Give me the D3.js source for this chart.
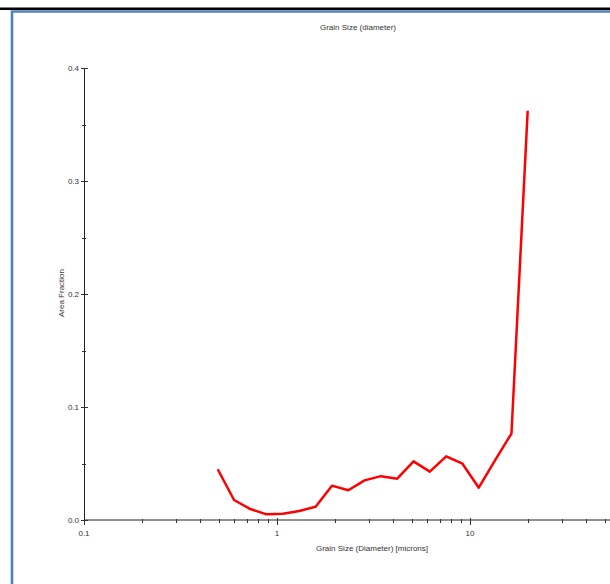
<!DOCTYPE html>
<html lang="en">
<head>
    <meta charset="UTF-8">
    <title>Grain Size (diameter)</title>
    <script src="https://d3js.org/d3.v7.min.js"></script>
    <style>
        body { margin: 0; background: #fff; }
        text { font-family: "Liberation Sans", Tahoma, sans-serif; fill: #333; }
    </style>
</head>
<body>
    <svg id="graph" width="610" height="584"></svg>
    <script>
        // grain size bins (microns) and area fraction
        const grainSize = [0.493, 0.599, 0.727, 0.883, 1.073, 1.304, 1.585, 1.926, 2.34, 2.843,
            3.454, 4.197, 5.10, 6.19, 7.53, 9.14, 11.1, 13.5, 16.4, 19.9];
        const areaFraction = [0.0449, 0.0177, 0.0097, 0.005, 0.0056, 0.008, 0.0118, 0.0304, 0.0263, 0.0351,
            0.0388, 0.0366, 0.0519, 0.0428, 0.0563, 0.0498, 0.0286, 0.053, 0.0765, 0.3622];
        const xTicks = [0.1, 1, 10];
        const yTicks = [0, 0.1, 0.2, 0.3, 0.4];
        const yMinor = [0.05, 0.15, 0.25, 0.35];

        const svg = d3.select("#graph");

        // frame
        svg.append("rect").attr("x", 0).attr("y", 7.5).attr("width", 610).attr("height", 2.5).attr("fill", "#000");
        svg.append("path")
            .attr("d", "M12,600 L12,11.5 L612,11.5")
            .attr("fill", "none").attr("stroke", "#4f81bd").attr("stroke-width", 2.6);

        const x = d3.scaleLog().domain([0.1, 100]).range([84, 663]);
        const y = d3.scaleLinear().domain([0, 0.4]).range([520, 68]);

        const g = svg.append("g");

        // x axis
        g.append("line").attr("x1", x(0.1)).attr("x2", 663).attr("y1", y(0)).attr("y2", y(0))
            .attr("stroke", "#222").attr("stroke-width", 1);
        const minors = [];
        [0.1, 1, 10].forEach(d => { for (let k = 2; k <= 9; k++) minors.push(d * k); });
        g.selectAll(".xminor").data(minors).join("line")
            .attr("x1", d => Math.round(x(d)) + 0.5).attr("x2", d => Math.round(x(d)) + 0.5)
            .attr("y1", y(0) - 1).attr("y2", y(0) + 3)
            .attr("stroke", "#333");
        g.selectAll(".xmajor").data(xTicks).join("line")
            .attr("x1", d => Math.round(x(d)) + 0.5).attr("x2", d => Math.round(x(d)) + 0.5)
            .attr("y1", y(0) - 2).attr("y2", y(0) + 5)
            .attr("stroke", "#333");
        g.selectAll(".xlab").data(xTicks).join("text")
            .attr("x", d => x(d)).attr("y", y(0) + 16)
            .attr("text-anchor", "middle").attr("font-size", 8)
            .text(d => d3.format("~g")(d));

        // y axis
        g.append("line").attr("x1", 84.5).attr("x2", 84.5).attr("y1", y(0)).attr("y2", y(0.4))
            .attr("stroke", "#222");
        g.selectAll(".ymajor").data(yTicks).join("line")
            .attr("x1", 81).attr("x2", 88).attr("y1", d => Math.round(y(d)) + 0.5).attr("y2", d => Math.round(y(d)) + 0.5)
            .attr("stroke", "#333");
        g.selectAll(".yminor").data(yMinor).join("line")
            .attr("x1", 82).attr("x2", 86).attr("y1", d => Math.round(y(d)) + 0.5).attr("y2", d => Math.round(y(d)) + 0.5)
            .attr("stroke", "#333");
        g.selectAll(".ylab").data(yTicks).join("text")
            .attr("x", 79).attr("y", d => y(d) + 3)
            .attr("text-anchor", "end").attr("font-size", 8)
            .text(d => d3.format(".1f")(d));

        // titles
        svg.append("text").attr("x", 358).attr("y", 30).attr("text-anchor", "middle")
            .attr("font-size", 8).text("Grain Size (diameter)");
        svg.append("text").attr("x", 372).attr("y", 551).attr("text-anchor", "middle")
            .attr("font-size", 8).text("Grain Size (Diameter) [microns]");
        svg.append("text").attr("transform", "translate(64,293) rotate(-90)").attr("text-anchor", "middle")
            .attr("font-size", 8).text("Area Fraction");

        // data line
        const data = grainSize.map((d, i) => ({ x: d, y: areaFraction[i] }));
        const line = d3.line().x(d => x(d.x)).y(d => y(d.y));
        svg.append("path").datum(data)
            .attr("d", line)
            .attr("fill", "none").attr("stroke", "#ff0000").attr("stroke-width", 2.5)
            .attr("stroke-linejoin", "round");
    </script>
</body>
</html>
